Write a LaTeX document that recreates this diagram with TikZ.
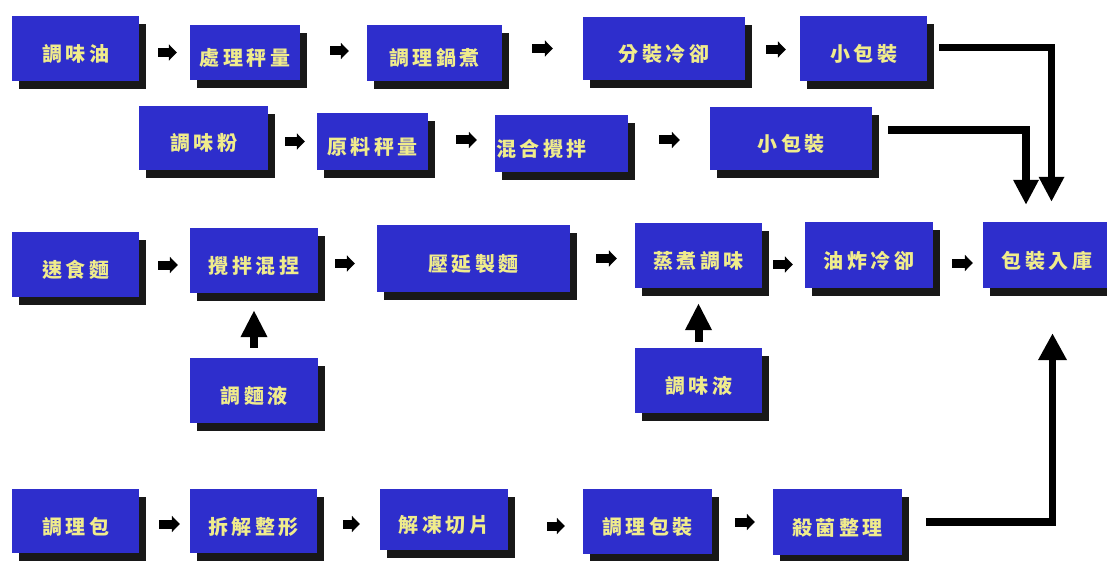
\documentclass[tikz,border=0pt]{standalone}
\usepackage{fontspec}
\newfontfamily\cjk{Noto Sans CJK TC}
\usetikzlibrary{arrows.meta,shadows}
\definecolor{boxblue}{RGB}{46,46,204}
\definecolor{txtyellow}{RGB}{240,236,140}
\definecolor{shadowc}{RGB}{24,24,24}
\newcommand\cg{\kern3.5pt}
\tikzset{
  box/.style={rectangle, fill=boxblue, inner sep=0pt, text=txtyellow,
    font=\cjk\bfseries\fontsize{20pt}{22pt}\selectfont,
    minimum width=127pt, minimum height=65pt, text height=26pt, text depth=0pt,
    drop shadow={shadow xshift=7pt, shadow yshift=-8pt, fill=shadowc, opacity=1}},
  sarrow/.style={line width=9pt, draw=black, -{Triangle[length=8pt,width=16pt]}},
  barrow/.style={line width=7.5pt, draw=black, -{Triangle[length=25pt,width=24pt]}},
  uarrow/.style={line width=8pt, draw=black, -{Triangle[length=27pt,width=25pt]}},
}
\begin{document}
\begin{tikzpicture}[x=1pt,y=-1pt]
\useasboundingbox[fill=white] (0,0) rectangle (1107,561);
% row 1
\node[box] (oil) at (75.5,48.5) {調\cg 味\cg 油};
\node[box, minimum width=110pt, minimum height=55pt] (wt1) at (245,52.5) {處\cg 理\cg 秤\cg 量};
\node[box, minimum width=135pt, minimum height=56pt] (cook) at (434.5,53) {調\cg 理\cg 鍋\cg 煮};
\node[box, minimum width=162pt, minimum height=63pt] (cool) at (664,48.5) {分\cg 裝\cg 冷\cg 卻};
\node[box] (sp1) at (863.5,48.5) {小\cg 包\cg 裝};
% row 2
\node[box, minimum width=129pt, minimum height=64pt] (pow) at (203.5,138) {調\cg 味\cg 粉};
\node[box, minimum width=111pt, minimum height=57pt] (wt2) at (372.5,141.5) {原\cg 料\cg 秤\cg 量};
\node[box, minimum width=133pt, minimum height=57pt, inner xsep=1pt, text width=131pt, align=left] (mix) at (561.5,143.5) {混\cg 合\cg 攪\cg 拌};
\node[box, minimum width=162pt, minimum height=63pt] (sp2) at (791,138.5) {小\cg 包\cg 裝};
% row 3
\node[box] (noodle) at (75.5,264.5) {速\cg 食\cg 麵};
\node[box, minimum width=128pt] (knead) at (254,260.5) {攪\cg 拌\cg 混\cg 捏};
\node[box, minimum width=193pt, minimum height=67pt] (roll) at (473.5,258.5) {壓\cg 延\cg 製\cg 麵};
\node[box] (steam) at (698.5,255.5) {蒸\cg 煮\cg 調\cg 味};
\node[box, minimum width=128pt, minimum height=66pt] (fry) at (869,255) {油\cg 炸\cg 冷\cg 卻};
\node[box, minimum width=128pt, minimum height=66pt] (pack) at (1047,255) {包\cg 裝\cg 入\cg 庫};
% row 4
\node[box, minimum width=128pt] (liq1) at (254,390.5) {調\cg 麵\cg 液};
\node[box] (liq2) at (698.5,380.5) {調\cg 味\cg 液};
% row 5
\node[box, minimum height=64pt] (rp) at (75.5,521) {調\cg 理\cg 包};
\node[box, minimum height=64pt] (dis) at (253.5,521) {拆\cg 解\cg 整\cg 形};
\node[box, minimum width=128pt, minimum height=61pt] (thaw) at (444,519.5) {解\cg 凍\cg 切\cg 片};
\node[box, minimum width=129pt] (rpk) at (647.5,521.5) {調\cg 理\cg 包\cg 裝};
\node[box, minimum width=129pt, minimum height=66pt] (ster) at (837.5,522) {殺\cg 菌\cg 整\cg 理};
% small arrows row 1
\draw[sarrow, shorten <=19pt, shorten >=13pt] (wt1.west -| oil.east) -- (wt1.west);
\draw[sarrow, shorten <=30pt, shorten >=18pt] ([yshift=2pt]cook.west -| wt1.east) -- ([yshift=2pt]cook.west);
\draw[sarrow, shorten <=30pt, shorten >=30pt] (cool.west -| cook.east) -- (cool.west);
\draw[sarrow, shorten <=21pt, shorten >=14pt] ([yshift=-1pt]sp1.west -| cool.east) -- ([yshift=-1pt]sp1.west);
% row 2
\draw[sarrow, shorten <=17pt, shorten >=12pt] (wt2.west -| pow.east) -- (wt2.west);
\draw[sarrow, shorten <=28pt, shorten >=18pt] ([yshift=3.5pt]mix.west -| wt2.east) -- ([yshift=3.5pt]mix.west);
\draw[sarrow, shorten <=31pt, shorten >=30pt] ([yshift=-1.5pt]sp2.west -| mix.east) -- ([yshift=-1.5pt]sp2.west);
% row 3
\draw[sarrow, shorten <=19pt, shorten >=12pt] ([yshift=-4.5pt]knead.west -| noodle.east) -- ([yshift=-4.5pt]knead.west);
\draw[sarrow, shorten <=17pt, shorten >=22pt] ([yshift=-5pt]roll.west -| knead.east) -- ([yshift=-5pt]roll.west);
\draw[sarrow, shorten <=26pt, shorten >=18pt] ([yshift=-3pt]steam.west -| roll.east) -- ([yshift=-3pt]steam.west);
\draw[sarrow, shorten <=11pt, shorten >=12pt] ([yshift=-9.5pt]fry.west -| steam.east) -- ([yshift=-9.5pt]fry.west);
\draw[sarrow, shorten <=19pt, shorten >=10pt] ([yshift=-8pt]pack.west -| fry.east) -- ([yshift=-8pt]pack.west);
% row 5
\draw[sarrow, shorten <=20pt, shorten >=10pt] ([yshift=-3pt]dis.west -| rp.east) -- ([yshift=-3pt]dis.west);
\draw[sarrow, shorten <=26pt, shorten >=20pt] ([yshift=-4.5pt]thaw.west -| dis.east) -- ([yshift=-4.5pt]thaw.west);
\draw[sarrow, shorten <=39pt, shorten >=18pt] ([yshift=-4.5pt]rpk.west -| thaw.east) -- ([yshift=-4.5pt]rpk.west);
\draw[sarrow, shorten <=23pt, shorten >=18pt] (ster.west -| rpk.east) -- (ster.west);
% up arrows
\draw[uarrow, shorten <=10pt, shorten >=17pt] (liq1.north) -- (knead.south);
\draw[uarrow, shorten <=6pt, shorten >=15pt] (liq2.north) -- (steam.south);
% big arrows
\draw[barrow, shorten >=20pt] ([xshift=12pt,yshift=1pt]sp1.east) -| ([xshift=4.5pt]pack.north);
\draw[barrow, shorten >=17pt] ([xshift=16pt,yshift=8.5pt]sp2.east) -| ([xshift=-21pt]pack.north);
\draw[barrow, -{Triangle[length=27pt,width=27pt]}, shorten >=45pt] ([xshift=24pt]ster.east) -| ([xshift=5.5pt]pack.south);
\end{tikzpicture}
\end{document}
